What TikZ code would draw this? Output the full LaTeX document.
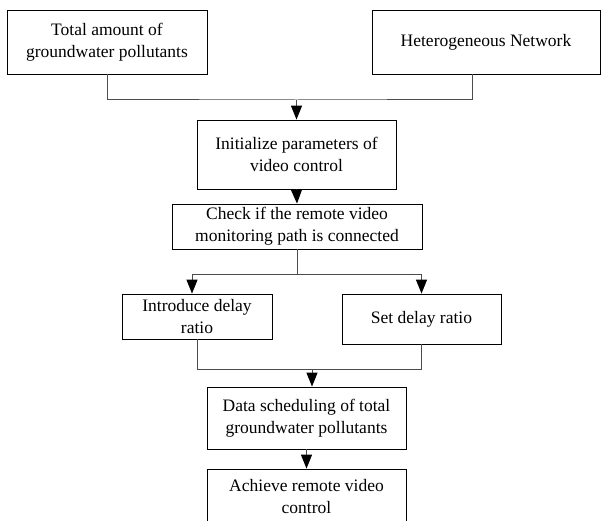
\documentclass[tikz,border=0pt]{standalone}
\usepackage{fontspec}
\setmainfont{Liberation Serif}
\usetikzlibrary{arrows.meta}
\begin{document}
\begin{tikzpicture}[x=1pt,y=-1pt,
  box/.style={draw=black, line width=0.8pt, align=center, inner sep=0pt,
              font=\fontsize{17.5}{22}\selectfont},
  conn/.style={draw=black!70, line width=1pt},
  arr/.style={conn, -{Triangle[width=11pt,length=14pt,color=black,fill=black]}}]
\useasboundingbox (0,0) rectangle (602,521);
\clip (0,0) rectangle (602,521);
\node[box, minimum width=200pt, minimum height=64pt] (b1) at (107,42) {Total amount of\\groundwater pollutants};
\node[box, minimum width=228pt, minimum height=64pt] (b2) at (486,42) {Heterogeneous Network};
\node[box, minimum width=199pt, minimum height=69pt] (init) at (296.5,154.5) {Initialize parameters of\\video control};
\node[box, minimum width=250pt, minimum height=45pt] (check) at (297,226.5) {Check if the remote video\\monitoring path is connected};
\node[box, minimum width=150pt, minimum height=45pt] (intro) at (197,316.5) {Introduce delay\\ratio};
\node[box, minimum width=159pt, minimum height=50pt] (set) at (421.5,319) {Set delay ratio};
\node[box, minimum width=199pt, minimum height=62pt] (data) at (306.5,418) {Data scheduling of total\\groundwater pollutants};
\node[box, minimum width=199pt, minimum height=56pt] (ach) at (306.5,497) {Achieve remote video\\control};
\coordinate (j1) at (296.5,100);
\coordinate (j2) at (297,275);
\coordinate (j3) at (312,369);
\draw[conn] (b1.south) |- (j1) -| ([xshift=-14pt]b2.south);
\draw[arr] (j1) -- (init.north);
\draw[arr] (init.south) -- (check.north);
\draw[conn] (check.south) -- (j2);
\draw[arr] (j2) -| ([xshift=-5pt]intro.north);
\draw[arr] (j2) -| (set.north);
\draw[conn] (intro.south) |- (j3);
\draw[conn] (set.south) |- (j3);
\draw[arr] (j3) -- (j3 |- data.north);
\draw[arr] (data.south) -- (ach.north);
\end{tikzpicture}
\end{document}
